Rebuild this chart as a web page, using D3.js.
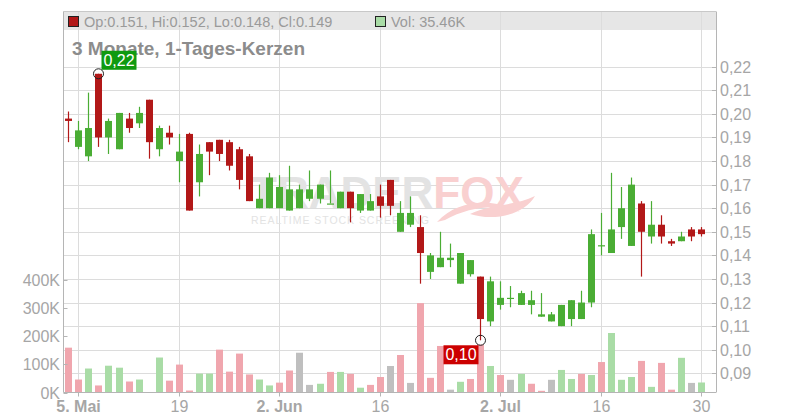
<!DOCTYPE html>
<html><head><meta charset="utf-8">
<script src="https://cdn.jsdelivr.net/npm/d3@7"></script>
<style>html,body{margin:0;padding:0;background:#fff}svg{display:block;font-family:Arial,"Liberation Sans",sans-serif}</style>
</head><body>
<svg id="c" width="800" height="420"></svg>
<script>
const dates = ["2025-05-02","2025-05-05","2025-05-06","2025-05-07","2025-05-08","2025-05-09","2025-05-12","2025-05-13","2025-05-14","2025-05-15","2025-05-16","2025-05-19","2025-05-20","2025-05-21","2025-05-22","2025-05-23","2025-05-26","2025-05-27","2025-05-28","2025-05-29","2025-05-30","2025-06-02","2025-06-03","2025-06-04","2025-06-05","2025-06-06","2025-06-09","2025-06-10","2025-06-11","2025-06-12","2025-06-13","2025-06-16","2025-06-17","2025-06-18","2025-06-19","2025-06-20","2025-06-23","2025-06-24","2025-06-25","2025-06-26","2025-06-27","2025-06-30","2025-07-01","2025-07-02","2025-07-03","2025-07-04","2025-07-07","2025-07-08","2025-07-09","2025-07-10","2025-07-11","2025-07-14","2025-07-15","2025-07-16","2025-07-17","2025-07-18","2025-07-21","2025-07-22","2025-07-23","2025-07-24","2025-07-25","2025-07-28","2025-07-29","2025-07-30"];
const open  = [0.198,0.186,0.182,0.217,0.190,0.185,0.198,0.196,0.206,0.185,0.192,0.180,0.1915,0.171,0.188,0.189,0.188,0.185,0.182,0.160,0.160,0.160,0.159,0.160,0.164,0.164,0.162,0.160,0.167,0.159,0.159,0.165,0.172,0.150,0.153,0.152,0.133,0.135,0.138,0.128,0.132,0.131,0.112,0.119,0.1218,0.119,0.119,0.114,0.112,0.110,0.113,0.113,0.120,0.1443,0.141,0.152,0.144,0.162,0.148,0.153,0.146,0.146,0.151,0.151];
const high  = [0.201,0.197,0.209,0.217,0.198,0.2004,0.2004,0.203,0.206,0.195,0.195,0.1915,0.192,0.187,0.188,0.189,0.189,0.186,0.183,0.170,0.175,0.174,0.178,0.170,0.176,0.170,0.176,0.167,0.167,0.166,0.166,0.170,0.172,0.163,0.165,0.157,0.141,0.150,0.145,0.141,0.138,0.131,0.131,0.129,0.127,0.125,0.125,0.124,0.116,0.119,0.121,0.125,0.151,0.158,0.175,0.169,0.173,0.163,0.163,0.157,0.147,0.150,0.152,0.152];
const low   = [0.188,0.185,0.180,0.186,0.183,0.185,0.192,0.194,0.181,0.182,0.187,0.171,0.159,0.165,0.174,0.180,0.176,0.168,0.163,0.160,0.160,0.160,0.159,0.160,0.163,0.162,0.162,0.160,0.154,0.158,0.159,0.156,0.157,0.150,0.152,0.128,0.130,0.135,0.135,0.128,0.131,0.104,0.110,0.117,0.118,0.119,0.115,0.114,0.112,0.110,0.110,0.113,0.118,0.140,0.141,0.147,0.144,0.131,0.145,0.145,0.144,0.146,0.146,0.148];
const close = [0.197,0.193,0.194,0.190,0.197,0.2004,0.194,0.2004,0.188,0.194,0.190,0.184,0.159,0.183,0.184,0.183,0.178,0.172,0.163,0.164,0.173,0.169,0.168,0.168,0.168,0.170,0.162,0.167,0.160,0.166,0.163,0.161,0.161,0.158,0.158,0.141,0.140,0.139,0.139,0.141,0.138,0.113,0.129,0.122,0.122,0.124,0.121,0.115,0.115,0.119,0.121,0.120,0.149,0.1443,0.151,0.160,0.170,0.150,0.153,0.148,0.145,0.148,0.148,0.149];
const volume = [159000,46000,85000,25000,95000,88000,39000,46000,0,124000,42000,99000,7000,67000,67000,152000,74000,138000,64000,46000,25000,35000,78000,141000,27000,31000,73000,73000,66000,17000,27000,55000,94000,133000,34000,317000,52000,165000,10000,38000,48000,170000,94000,62000,45000,66000,31000,6000,45000,80000,48000,66000,62000,108000,211000,45000,55000,112000,20000,105000,10000,123000,34000,35460];
const prevClose0 = 0.199;
const priceTicks = [0.09,0.10,0.11,0.12,0.13,0.14,0.15,0.16,0.17,0.18,0.19,0.20,0.21,0.22];
const volTicks = [0,100000,200000,300000,400000];
const xTickDates = ["2025-05-05","2025-05-19","2025-06-02","2025-06-16","2025-07-02","2025-07-16","2025-07-30"];
const xTickLabels = ["5. Mai","19","2. Jun","16","2. Jul","16","30"];
const xTickBold = [true,false,true,false,true,false,false];
const title = "3 Monate, 1-Tages-Kerzen";
const headerText = "Op:0.151, Hi:0.152, Lo:0.148, Cl:0.149";
const volText = "Vol: 35.46K";

const svg = d3.select("#c");
const L = 63.5, R = 716, T = 11.5, B = 392.5;
const x = d3.scalePoint().domain(dates).range([68.25, 701.4]);
const y = d3.scaleLinear().domain([0.09, 0.22]).range([373.3, 66.7]);
const yv = d3.scaleLinear().domain([0, 400000]).range([B, 279.7]);
const GREEN = "#4aad34", RED = "#b21818";
const VG = "#a9dca6", VR = "#f0a6ae", VN = "#bfbfbf";
const GRID = "#dcdcdc", AX = "#b5b5b5", TXT = "#a6a6a6";

// header band
svg.append("rect").attr("x", L).attr("y", T).attr("width", R - L).attr("height", 18.5).attr("fill", "#e6e6e6");

// gridlines
svg.append("g").selectAll("line").data(priceTicks).join("line")
  .attr("x1", L).attr("x2", R).attr("y1", d => Math.round(y(d)) + 0.5).attr("y2", d => Math.round(y(d)) + 0.5)
  .attr("stroke", GRID).attr("stroke-width", 1);
svg.append("g").selectAll("line").data(xTickDates).join("line")
  .attr("x1", d => Math.round(x(d)) + 0.5).attr("x2", d => Math.round(x(d)) + 0.5).attr("y1", T).attr("y2", B)
  .attr("stroke", GRID).attr("stroke-width", 1);

// watermark
const wm = svg.append("g");
const wt = wm.append("text").attr("x", 250).attr("y", 208).attr("font-size", 44).attr("font-weight", "bold");
wt.append("tspan").attr("fill", "#e3e3e3").text("TRADER");
wt.append("tspan").attr("fill", "#f9d0d0").text("FOX");
wm.append("path").attr("d", "M 437 222 C 460 196, 500 200, 520 212 C 500 204, 470 206, 445 220 Z M 470 214 C 490 204, 515 206, 535 196 C 525 214, 495 222, 470 214 Z")
  .attr("fill", "#f9d0d0");
wm.append("text").attr("x", 251).attr("y", 224).attr("font-size", 10.5).attr("fill", "#e3e3e3")
  .attr("textLength", 178).attr("lengthAdjust", "spacing").text("REALTIME STOCK SCREENING");

// volume bars
const data = dates.map((d, i) => ({d, o: open[i], h: high[i], l: low[i], c: close[i], v: volume[i],
  pc: i === 0 ? prevClose0 : close[i - 1]}));
svg.append("g").selectAll("rect").data(data.filter(e => e.v > 0)).join("rect")
  .attr("x", e => Math.round(x(e.d)) - 3).attr("width", 7)
  .attr("y", e => yv(e.v)).attr("height", e => B - yv(e.v))
  .attr("fill", e => {
    const a = Math.round(e.c * 10000), b = Math.round(e.pc * 10000);
    return a > b ? VG : a < b ? VR : VN;
  });

// candles
const cg = svg.append("g");
data.forEach(e => {
  const cx = Math.round(x(e.d));
  const col = e.c >= e.o ? GREEN : RED;
  cg.append("line").attr("x1", cx + 0.5).attr("x2", cx + 0.5).attr("y1", y(e.h)).attr("y2", y(e.l))
    .attr("stroke", col).attr("stroke-width", 1.2);
  const top = y(Math.max(e.o, e.c)), bot = y(Math.min(e.o, e.c));
  cg.append("rect").attr("x", cx - 3).attr("width", 7).attr("y", top).attr("height", Math.max(1.2, bot - top)).attr("fill", col);
});

// frame / axes
svg.append("line").attr("x1", L).attr("x2", R).attr("y1", T).attr("y2", T).attr("stroke", "#c8c8c8");
svg.append("line").attr("x1", L).attr("x2", L).attr("y1", T).attr("y2", B).attr("stroke", AX);
svg.append("line").attr("x1", R + 0.5).attr("x2", R + 0.5).attr("y1", T).attr("y2", B).attr("stroke", AX);
svg.append("line").attr("x1", L).attr("x2", R).attr("y1", B).attr("y2", B).attr("stroke", AX);

// right axis ticks + labels
const ra = svg.append("g");
priceTicks.forEach(p => {
  const yy = Math.round(y(p)) + 0.5;
  ra.append("line").attr("x1", R - 4).attr("x2", R).attr("y1", yy).attr("y2", yy).attr("stroke", AX);
  ra.append("text").attr("x", 720).attr("y", yy).attr("dy", "0.36em").attr("font-size", 16).attr("fill", TXT)
    .text(d3.format(".2f")(p).replace(".", ","));
});
// left axis
const la = svg.append("g");
volTicks.forEach(v => {
  const yy = Math.round(yv(v)) + 0.5;
  la.append("line").attr("x1", L).attr("x2", L + 4).attr("y1", yy).attr("y2", yy).attr("stroke", AX);
  la.append("text").attr("x", 60).attr("y", yy).attr("dy", "0.36em").attr("text-anchor", "end").attr("font-size", 16).attr("fill", TXT)
    .text((v / 1000) + "K");
});
// bottom axis
const ba = svg.append("g");
xTickDates.forEach((d, i) => {
  const xx = Math.round(x(d)) + 0.5;
  ba.append("line").attr("x1", xx).attr("x2", xx).attr("y1", B).attr("y2", B + 4).attr("stroke", AX);
  ba.append("text").attr("x", xx).attr("y", 412).attr("text-anchor", "middle").attr("font-size", 16)
    .attr("font-weight", xTickBold[i] ? "bold" : "normal").attr("fill", TXT).text(xTickLabels[i]);
});

// header legend
svg.append("rect").attr("x", 68.5).attr("y", 16.5).attr("width", 10).attr("height", 10).attr("fill", RED).attr("stroke", "#222");
svg.append("text").attr("x", 84).attr("y", 26.5).attr("font-size", 14.5).attr("fill", "#9a9a9a").text(headerText);
svg.append("rect").attr("x", 375.5).attr("y", 16.5).attr("width", 10).attr("height", 10).attr("fill", VG).attr("stroke", "#222");
svg.append("text").attr("x", 391).attr("y", 26.5).attr("font-size", 14.5).attr("fill", "#9a9a9a").text(volText);

// title
svg.append("text").attr("x", 72).attr("y", 55).attr("font-size", 19).attr("font-weight", "bold").attr("fill", "#8c8c8c").text(title);

// high / low markers
const fmt = v => d3.format(".2f")(v).replace(".", ",");
const hi = d3.maxIndex(high), lo = d3.minIndex(low);
const hx = Math.round(x(dates[hi])) + 0.5, hy = y(high[hi]);
const lx = Math.round(x(dates[lo])) + 0.5, ly = y(low[lo]);
svg.append("circle").attr("cx", hx).attr("cy", hy).attr("r", 5).attr("fill", "none").attr("stroke", "#222");
svg.append("circle").attr("cx", lx).attr("cy", ly).attr("r", 5).attr("fill", "none").attr("stroke", "#222");
svg.append("rect").attr("x", hx + 3).attr("y", hy - 23).attr("width", 35).attr("height", 19).attr("fill", "#109a10");
svg.append("text").attr("x", hx + 20.5).attr("y", hy - 8).attr("text-anchor", "middle").attr("font-size", 16).attr("fill", "#fff").text(fmt(high[hi]));
svg.append("rect").attr("x", lx - 37).attr("y", ly + 5).attr("width", 35).attr("height", 19).attr("fill", "#cc0000");
svg.append("text").attr("x", lx - 19.5).attr("y", ly + 20).attr("text-anchor", "middle").attr("font-size", 16).attr("fill", "#fff").text(fmt(low[lo]));
</script>
</body></html>
